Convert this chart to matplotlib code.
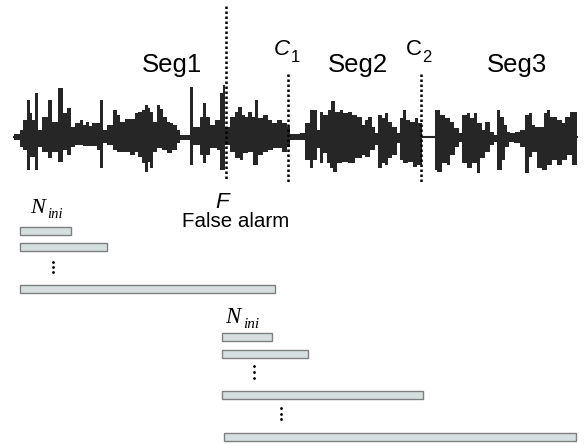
import numpy as np
import matplotlib
matplotlib.use("Agg")
import matplotlib.pyplot as plt

# speech waveform envelope (pixel units), step edges and amplitudes above/below the axis
top_x = [14, 20, 23, 27, 30, 32, 35, 38, 42, 48, 52, 58, 63, 67, 71, 75, 80, 83, 86, 89,
         92, 97, 100, 103, 107, 113, 117, 120, 125, 130, 135, 138, 142, 145, 148, 150, 153,
         157, 160, 163, 167, 170, 173, 177, 180, 190, 193, 200, 203, 206, 210, 215, 220,
         223, 225, 230, 235, 238, 242, 245, 248, 252, 255, 258, 263, 268, 272, 277, 282,
         287, 290, 300, 305, 310, 317, 320, 323, 328, 331, 335, 340, 343, 348, 352, 357,
         362, 365, 368, 372, 375, 378, 382, 385, 388, 392, 397, 400, 403, 406, 410, 415,
         418, 422, 435, 440, 445, 450, 454, 459, 462, 467, 470, 474, 477, 482, 485, 490,
         494, 497, 500, 504, 507, 510, 515, 520, 525, 529, 532, 535, 544, 547, 550, 557,
         562, 565, 570, 574]
top_amp = [3, 7, 17, 37, 24, 17, 44, 7, 20, 37, 15, 49, 24, 29, 10, 14, 17, 12, 15, 11,
           14, 14, 37, 7, 12, 27, 22, 15, 18, 18, 24, 25, 27, 32, 29, 25, 15,
           32, 28, 20, 15, 14, 12, 7, 2, 50, 10, 20, 34, 20, 12, 17, 44,
           52, 10, 20, 25, 30, 22, 20, 25, 20, 37, 19, 22, 17, 14, 17, 14,
           10, 3, 4, 14, 27, 7, 25, 22, 27, 36, 25, 27, 24, 25, 22, 20,
           12, 17, 20, 10, 4, 22, 19, 24, 15, 10, 4, 19, 27, 17, 15, 19,
           14, 1, 27, 22, 19, 15, 9, 4, 22, 24, 19, 24, 14, 7, 15, 5,
           2, 27, 20, 12, 5, 4, 5, 7, 22, 24, 12, 10, 24, 27, 20, 17,
           14, 20, 25, 25]
bot_x = [14, 20, 23, 27, 30, 35, 38, 42, 48, 52, 58, 63, 67, 71, 75, 83, 97, 100, 103, 107,
         113, 117, 125, 130, 135, 138, 142, 145, 148, 150, 153, 157, 162, 167, 172, 177,
         180, 190, 193, 200, 203, 206, 210, 217, 220, 225, 230, 235, 240, 243, 248, 253,
         258, 263, 268, 273, 282, 287, 290, 305, 310, 313, 317, 320, 323, 327, 330, 333,
         337, 342, 348, 355, 362, 365, 370, 375, 378, 382, 385, 388, 392, 397, 400, 403,
         408, 413, 417, 422, 435, 437, 442, 447, 450, 455, 459, 462, 467, 472, 477, 480,
         485, 490, 494, 497, 502, 505, 509, 514, 520, 525, 529, 532, 537, 542, 547, 552,
         557, 562, 567, 572]
bot_amp = [3, 10, 13, 33, 20, 33, 10, 15, 21, 15, 25, 13, 18, 10, 8, 9, 13, 31, 6, 8,
           13, 15, 15, 18, 15, 20, 26, 35, 25, 31, 15, 11, 13, 16, 13, 6,
           3, 28, 8, 18, 26, 18, 11, 13, 33, 8, 15, 21, 23, 16, 15, 28,
           18, 15, 13, 11, 15, 10, 3, 23, 31, 23, 11, 26, 16, 26, 31, 35,
           26, 25, 26, 21, 18, 20, 13, 8, 31, 26, 28, 21, 18, 6, 23, 26,
           25, 30, 28, 1, 33, 35, 26, 28, 18, 10, 5, 26, 31, 26, 36, 21,
           15, 8, 5, 33, 23, 10, 5, 6, 10, 36, 20, 15, 31, 33, 28, 23,
           28, 23, 18, 28]
wave_end = 577
wave_mid = 137

# change points and labels
f_x = 226
c1_x = 288
c2_x = 421
seg_names = ["Seg1", "Seg2", "Seg3"]
seg_x = [172, 358, 517]

# growing windows: left edge, right edge, row centre
win_left = [20, 20, 20, 222, 222, 222, 224]
win_right = [71, 107, 275, 272, 308, 423, 576]
win_y = [230.5, 247, 289, 336.5, 354, 395, 437]

fig = plt.figure(figsize=(5.87, 4.44), dpi=100)
ax = fig.add_axes([0, 0, 1, 1])
ax.set_xlim(0, 587)
ax.set_ylim(444, 0)
ax.axis("off")

wave_col = "#262626"
tx = np.array(top_x + [wave_end])
ta = np.array(top_amp + [top_amp[-1]])
bx = np.array(bot_x + [wave_end])
ba = np.array(bot_amp + [bot_amp[-1]])
ax.fill_between(tx, wave_mid - ta, wave_mid, step="post", color=wave_col, lw=0)
ax.fill_between(bx, wave_mid, wave_mid + ba, step="post", color=wave_col, lw=0)
ax.plot([14, wave_end], [wave_mid, wave_mid], color=wave_col, lw=1.5)

dots = (0, (1, 1))
ax.plot([f_x, f_x], [6, 181], color="black", lw=1.8, ls=dots)
ax.plot([c1_x, c1_x], [74, 183], color="black", lw=1.8, ls=dots)
ax.plot([c2_x, c2_x], [74, 184], color="black", lw=1.8, ls=dots)

sans = "Liberation Sans"
serif = "Liberation Serif"
for name, x in zip(seg_names, seg_x):
    ax.text(x, 72, name, ha="center", va="baseline", fontsize=18.5, family=sans)

ax.text(274, 55, "C", ha="left", va="baseline", fontsize=16, family=sans, style="italic")
ax.text(290.5, 61.5, "1", ha="left", va="baseline", fontsize=12, family=sans)
ax.text(406, 55, "C", ha="left", va="baseline", fontsize=16, family=sans)
ax.text(422, 62.5, "2", ha="left", va="baseline", fontsize=12, family=sans)

ax.text(222, 208, "F", ha="center", va="baseline", fontsize=16, family=sans, style="italic")
ax.text(236, 227, "False alarm", ha="center", va="baseline", fontsize=14.8, family=sans)

ax.text(30, 212.7, "N", ha="left", va="baseline", fontsize=16, family=serif, style="italic")
ax.text(47, 217.5, "ini", ha="left", va="baseline", fontsize=10.5, family=serif, style="italic")
ax.text(225, 322.7, "N", ha="left", va="baseline", fontsize=16.5, family=serif, style="italic")
ax.text(243.5, 328.3, "ini", ha="left", va="baseline", fontsize=11, family=serif, style="italic")

ax.barh(win_y, np.array(win_right) - np.array(win_left), left=win_left, height=8,
        color="#d6dfdf", edgecolor="#7f7f7f", linewidth=1)

# vertical ellipses between rows
for x, ys in [(53, [262, 267, 272]), (254, [366, 372, 378]), (281, [408, 413.5, 419])]:
    ax.plot([x] * 3, ys, "o", color="black", ms=2.0, mew=0)

plt.savefig("out.png", dpi=100)
